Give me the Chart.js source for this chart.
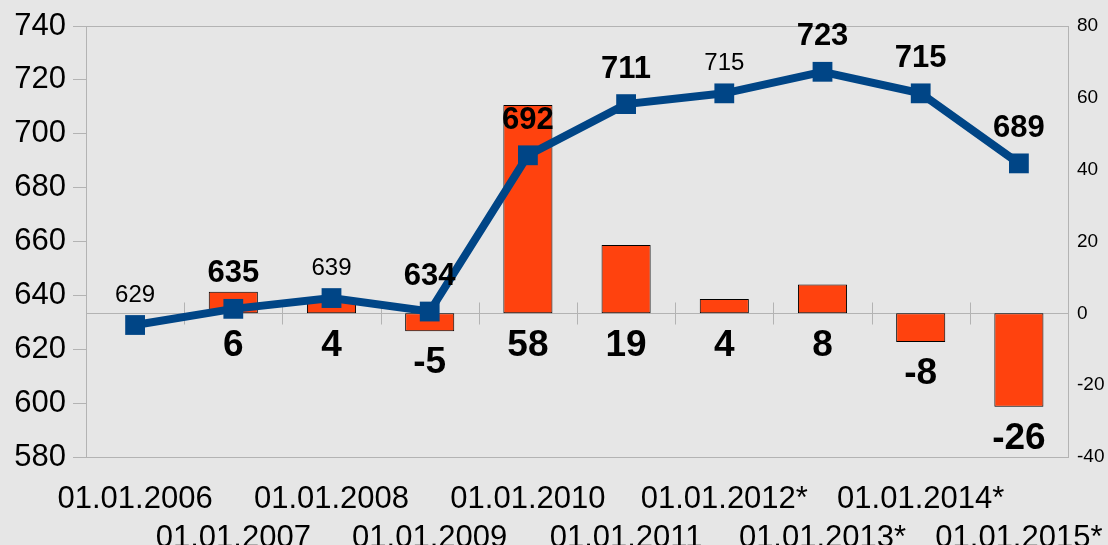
<!DOCTYPE html>
<html>
<head>
<meta charset="utf-8">
<script src="https://cdn.jsdelivr.net/npm/chart.js@4"></script>
<style>
  html, body { margin: 0; padding: 0; background: #e6e6e6; }
  #wrap { width: 1108px; height: 545px; }
</style>
</head>
<body>
<div id="wrap"><canvas id="chart"></canvas></div>
<script>
const dates = ['01.01.2006', '01.01.2007', '01.01.2008', '01.01.2009', '01.01.2010',
  '01.01.2011', '01.01.2012*', '01.01.2013*', '01.01.2014*', '01.01.2015*'];
const population = [629, 635, 639, 634, 692, 711, 715, 723, 715, 689];
const change = [null, 6, 4, -5, 58, 19, 4, 8, -8, -26];

const leftTicks = {min: 580, max: 740, step: 20};
const rightTicks = {min: -40, max: 80, step: 20};

// labels drawn in regular weight, the rest are bold
const plainLabels = [0, 2, 6];

const FONT = '"Liberation Sans", Arial, sans-serif';
const GRID = '#b3b3b3';

const framePlugin = {
  id: 'frame',
  beforeDatasetsDraw(chart) {
    const {ctx, chartArea: a, scales} = chart;
    const zero = Math.round(scales.y1.getPixelForValue(0)) + 0.5;
    const n = dates.length;
    const step = (a.right - a.left) / n;
    ctx.save();
    ctx.strokeStyle = GRID;
    ctx.lineWidth = 1;
    ctx.strokeRect(Math.round(a.left) + 0.5, Math.round(a.top) + 0.5,
      Math.round(a.right - a.left), Math.round(a.bottom - a.top));
    ctx.beginPath();
    ctx.moveTo(a.left, zero);
    ctx.lineTo(a.right, zero);
    for (let k = 1; k < n; k++) {
      const x = Math.round(a.left + k * step) + 0.5;
      ctx.moveTo(x, zero - 11);
      ctx.lineTo(x, zero + 11);
    }
    ctx.stroke();
    ctx.restore();
  }
};

const labelPlugin = {
  id: 'valueLabels',
  afterDatasetsDraw(chart) {
    const {ctx} = chart;
    const bars = chart.getDatasetMeta(0).data;
    const points = chart.getDatasetMeta(1).data;
    ctx.save();
    ctx.fillStyle = '#000';
    ctx.textAlign = 'center';
    ctx.textBaseline = 'middle';
    bars.forEach((bar, i) => {
      if (change[i] == null) return;
      const bottom = Math.max(bar.y, bar.base);
      ctx.font = 'bold 37px ' + FONT;
      ctx.fillText(String(change[i]), bar.x, bottom + 32);
    });
    points.forEach((pt, i) => {
      const plain = plainLabels.includes(i);
      ctx.font = (plain ? '24px ' : 'bold 31px ') + FONT;
      ctx.fillText(String(population[i]), pt.x, pt.y - (plain ? 30 : 35));
    });
    ctx.restore();
  }
};

new Chart(document.getElementById('chart'), {
  data: {
    labels: dates,
    datasets: [
      {
        type: 'bar',
        data: change,
        yAxisID: 'y1',
        backgroundColor: '#ff420e',
        borderColor: '#000',
        borderWidth: 1,
        borderSkipped: false,
        barPercentage: 0.5,
        categoryPercentage: 1,
        order: 1
      },
      {
        type: 'line',
        data: population,
        yAxisID: 'y',
        borderColor: '#004586',
        backgroundColor: '#004586',
        borderWidth: 8,
        pointStyle: 'rect',
        pointRadius: 14,
        pointHoverRadius: 14,
        pointBorderWidth: 0,
        tension: 0,
        order: 0
      }
    ]
  },
  options: {
    responsive: true,
    maintainAspectRatio: false,
    animation: false,
    events: [],
    layout: {padding: {top: 26, left: 0, right: 0, bottom: 0}},
    plugins: {legend: {display: false}, tooltip: {enabled: false}},
    scales: {
      x: {
        offset: true,
        grid: {display: false},
        border: {display: false},
        ticks: {
          color: '#000',
          font: {family: FONT, size: 31, lineHeight: 1.25},
          padding: 15,
          maxRotation: 0,
          autoSkip: false,
          callback: (v, i) => i % 2 === 0 ? [dates[i], ''] : ['', dates[i]]
        },
        afterFit: s => {
          s.height = 88;
          s.paddingLeft = 0;
          s.paddingRight = 0;
        }
      },
      y: {
        position: 'left',
        min: leftTicks.min,
        max: leftTicks.max,
        ticks: {
          stepSize: leftTicks.step,
          color: '#000',
          font: {family: FONT, size: 31},
          padding: 7
        },
        grid: {drawOnChartArea: false, tickLength: 13, color: GRID},
        border: {display: true, color: GRID},
        afterFit: s => { s.width = 86; }
      },
      y1: {
        position: 'right',
        min: rightTicks.min,
        max: rightTicks.max,
        ticks: {
          stepSize: rightTicks.step,
          color: '#000',
          font: {family: FONT, size: 19},
          padding: 9
        },
        grid: {display: false, drawTicks: false},
        border: {display: true, color: GRID},
        afterFit: s => { s.width = 40; }
      }
    }
  },
  plugins: [framePlugin, labelPlugin]
});
</script>
</body>
</html>
